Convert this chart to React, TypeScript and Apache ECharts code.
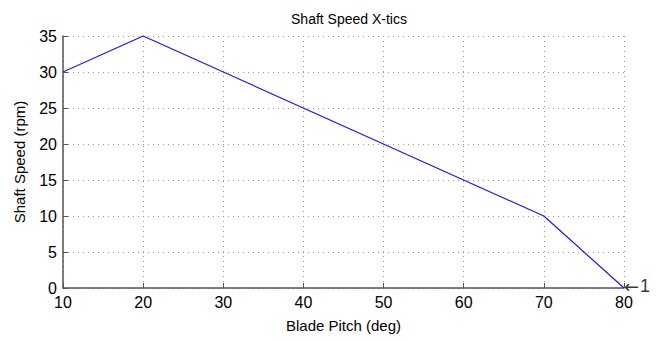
import React, { useEffect, useRef } from "react";
import * as echarts from "echarts";

const pitch = [10, 20, 70, 80];
const speed = [30, 35, 10, 0];
const annotationArrow = "←";
const annotationValue = "1";

export default function App() {
  const ref = useRef<HTMLDivElement>(null);
  useEffect(() => {
    const chart = echarts.init(ref.current!, null, { renderer: "svg" });
    const font = "Liberation Sans, Arial, sans-serif";
    const data = pitch.map((p, i) => [p, speed[i]]);
    const last = data[data.length - 1];
    chart.setOption({
      animation: false,
      backgroundColor: "#fff",
      title: {
        text: "Shaft Speed X-tics",
        left: 344,
        top: 7,
        textAlign: "center",
        textStyle: { fontSize: 14, fontWeight: "normal", color: "#000", fontFamily: font },
      },
      grid: { left: 63, right: 37, top: 36, bottom: 52, containLabel: false },
      xAxis: {
        type: "value",
        min: 10,
        max: 80,
        interval: 10,
        name: "Blade Pitch (deg)",
        nameLocation: "middle",
        nameGap: 30,
        nameTextStyle: { fontSize: 15, color: "#000", fontFamily: font },
        axisLine: { show: true, onZero: false, lineStyle: { color: "#555", width: 1.5 } },
        axisTick: { show: true, inside: true, length: 5, lineStyle: { color: "#555" } },
        axisLabel: { fontSize: 16, color: "#000", fontFamily: font, margin: 6 },
        splitLine: { show: true, lineStyle: { type: [1, 4], color: "#999" } },
      },
      yAxis: {
        type: "value",
        min: 0,
        max: 35,
        interval: 5,
        name: "Shaft Speed (rpm)",
        nameLocation: "middle",
        nameGap: 36,
        nameTextStyle: { fontSize: 15, color: "#000", fontFamily: font },
        axisLine: { show: true, onZero: false, lineStyle: { color: "#555", width: 1.5 } },
        axisTick: { show: true, inside: true, length: 5, lineStyle: { color: "#555" } },
        axisLabel: { fontSize: 16, color: "#000", fontFamily: font, margin: 6 },
        splitLine: { show: true, lineStyle: { type: [1, 4], color: "#999" } },
      },
      series: [
        {
          type: "line",
          data,
          symbol: "none",
          showSymbol: false,
          lineStyle: { color: "#1a1aee", width: 1.2 },
          clip: false,
        },
        {
          type: "scatter",
          data: [last],
          symbolSize: 0,
          clip: false,
          label: {
            show: true,
            position: "right",
            distance: 0,
            offset: [0, -2],
            formatter: "{a|" + annotationArrow + "}{b|" + annotationValue + "}",
            rich: {
              a: { fontSize: 18, lineHeight: 12, color: "#000", fontFamily: "DejaVu Sans", padding: [0, 1, 0, 0] },
              b: { fontSize: 18, lineHeight: 12, color: "#000", fontFamily: font },
            },
          },
        },
      ],
    });
    return () => chart.dispose();
  }, []);
  return (
    <div
      ref={ref}
      style={{ position: "fixed", left: 0, top: 0, width: 661, height: 340 }}
    />
  );
}
